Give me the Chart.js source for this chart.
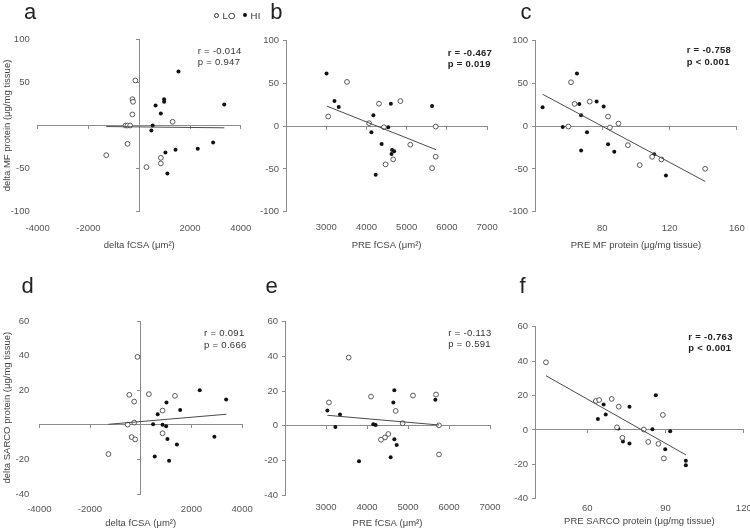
<!DOCTYPE html>
<html>
<head>
<meta charset="utf-8">
<script src="https://cdn.jsdelivr.net/npm/chart.js@4.4.1/dist/chart.umd.min.js"></script>
<style>
    html, body { margin: 0; padding: 0; background: #fff; overflow: hidden; }
    #wrap { position: relative; width: 750px; height: 531px; overflow: hidden; font-family: "Liberation Sans", Arial, sans-serif; }
    #wrap canvas { position: absolute; }
    .lbl { position: absolute; line-height: 1; white-space: nowrap; color: #333; }
    .letter { font-size: 22px; color: #222; }
    .stat { font-size: 9.5px; letter-spacing: 0.3px; }
    .bold { font-weight: bold; color: #222; }
    .dot { position: absolute; width: 4px; height: 4px; border-radius: 50%; }
</style>
</head>
<body>
<div id="wrap"></div>
<script>
// axis ranges: min, max, step
var deltaFcsaAxis = [-4000, 4000, 2000];
var preFcsaAxis = [2000, 7000, 1000];
var preMfAxis = [40, 160, 40];
var preSarcoAxis = [40, 120, 30];
var preSarcoTicks = [60, 90, 120];
var mfAxis = [-100, 100, 50];
var sarcoAxis = [-40, 60, 20];

// a : delta MF protein vs delta fCSA
var aLoX = [-154, -270, -245, -270, -540, -463, -360, 1313, -463, -1300, 849, 849, 283];
var aLoY = [52.2, 30.5, 27.5, 12.8, 0, 0, 0, 4.3, -21.3, -34.4, -37.5, -44, -48.3];
var aHiX = [1544, 978, 978, 643, 849, 3346, 528, 476, 2909, 2304, 1428, 1030, 1107];
var aHiY = [62.6, 30.5, 27.5, 23.2, 13.9, 24.4, 0, -5.8, -19.7, -27.1, -28.2, -31.3, -55.7];
var aFitX = [-1300, 3350];
var aFitY = [-1.2, -2.7];

// b : delta MF protein vs PRE fCSA
var bLoX = [3516, 3049, 4311, 4844, 4066, 4434, 5090, 5721, 5721, 5631, 4664, 4475];
var bLoY = [51.8, 11.4, 26.3, 29.4, 3.5, -1.2, -21.6, -0.4, -35.7, -49, -38.8, -44.7];
var bHiX = [3008, 3205, 3311, 4172, 4607, 5631, 4541, 4123, 4377, 4639, 4689, 4623, 4230];
var bHiY = [61.6, 29.4, 22.4, 12.9, 26.3, 23.5, -1.2, -7.1, -20.8, -27.8, -29.4, -32.5, -56.9];
var bFitX = [3016, 5730];
var bFitY = [23.5, -27.5];

// c : delta MF protein vs PRE MF protein
var cLoX = [61.4, 63.5, 72.5, 59.8, 83.4, 89.6, 84.5, 95.2, 109.6, 115.1, 102.2, 141.1];
var cLoY = [51.4, 26.1, 28.8, -0.4, 11.3, 3.1, -1.6, -22.2, -35.8, -38.9, -45.5, -49.8];
var cHiX = [64.9, 44.5, 66.3, 76.6, 80.8, 67.4, 56.5, 70.9, 67.4, 83.4, 87.1, 110.8, 117.8];
var cHiY = [61.5, 22.2, 26.1, 28.8, 23, 12.8, -0.8, -7, -28.4, -21, -30, -32.7, -57.6];
var cFitX = [44.5, 141.1];
var cFitY = [37.4, -64.6];

// d : delta SARCO protein vs delta fCSA
var dLoX = [-129, -450, -257, 322, 1350, 862, -257, -514, 862, -360, -219, -1273];
var dLoY = [39.3, 17.4, 13.5, 17.8, 16.8, 8.3, 1.4, 0.2, -4.8, -7, -8.3, -16.8];
var dHiX = [2328, 3369, 1016, 1556, 669, 489, 862, 1003, 1054, 2906, 1427, 553, 1119];
var dHiY = [20.1, 14.7, 13, 8.7, 6.2, 0.4, 0.2, -0.8, -8.1, -6.8, -11.2, -18.2, -20.7];
var dFitX = [-1273, 3382];
var dFitY = [0.4, 6.2];

// e : delta SARCO protein vs PRE fCSA
var eLoX = [3553, 3073, 4098, 5122, 5683, 4699, 4870, 5756, 4520, 4439, 4341, 5756];
var eLoY = [39.3, 13.4, 16.8, 17.4, 18, 8.5, 1.4, 0.2, -4.8, -6.8, -8.1, -16.6];
var eHiX = [4667, 4642, 5667, 3033, 3341, 3228, 4154, 4211, 4667, 4724, 4577, 3805];
var eHiY = [20.5, 13.4, 14.9, 8.7, 6.4, -0.8, 0.8, 0.4, -7.9, -11.2, -18.2, -20.5];
var eFitX = [3033, 5756];
var eFitY = [6, 0.4];

// f : delta SARCO protein vs PRE SARCO protein
var fLoX = [44.2, 63.3, 64.6, 69.4, 72.1, 89, 71.4, 81.7, 73.5, 83.4, 87.3, 89.4];
var fLoY = [39.3, 16.8, 17.4, 18, 13.5, 8.7, 1.5, 0.2, -4.6, -7, -8.1, -16.6];
var fHiX = [86.3, 66.3, 76.2, 67.1, 64.1, 71.9, 85, 91.8, 73.7, 76.2, 89.9, 97.8, 97.8];
var fHiY = [20.1, 14.7, 13.4, 8.9, 6.4, 0.8, 0.4, -0.8, -6.8, -7.9, -11.2, -18, -20.5];
var fFitX = [44.2, 97.8];
var fFitY = [31.5, -14.5];

var fontFamily = '"Liberation Sans", Arial, sans-serif';
var axisColor = '#8c8c8c';
var textColor = '#555';
var tickFont = { family: fontFamily, size: 9.5 };
var wrap = document.getElementById('wrap');

function pts(xs, ys) {
    return xs.map(function (x, i) { return { x: x, y: ys[i] }; });
}

function makePanel(p) {
    var cv = document.createElement('canvas');
    cv.width = p.box[2];
    cv.height = p.box[3];
    cv.style.left = p.box[0] + 'px';
    cv.style.top = p.box[1] + 'px';
    wrap.appendChild(cv);

    var A = p.area;
    var half = 9.5 * 1.2 / 2;
    var padLeft = p.padLeft || 0;
    var yW = A[0] - p.box[0] - padLeft;
    var xlH = p.titleY + half - A[3];
    var pad = {
        left: padLeft,
        top: A[1] - p.box[1],
        right: p.box[0] + p.box[2] - A[2],
        bottom: p.box[1] + p.box[3] - A[3] - xlH
    };
    var xHide = p.cross ? 0 : p.x[0];
    var setTicks = function (s) {
        if (p.ticks) s.ticks = p.ticks.map(function (v) { return { value: v }; });
    };
    var markGrid = { display: true, drawOnChartArea: false, drawTicks: true, tickLength: 3, color: axisColor };
    var border = { display: true, color: axisColor, width: 1 };

    var scales = {};
    scales.x = {
        type: 'linear', min: p.x[0], max: p.x[1], position: { y: 0 },
        border: border, grid: markGrid,
        ticks: { display: false, stepSize: p.x[2] },
        afterBuildTicks: setTicks
    };
    scales.xl = {
        type: 'linear', axis: 'x', min: p.x[0], max: p.x[1], position: 'bottom',
        border: { display: false }, grid: { display: false, drawTicks: false },
        ticks: {
            stepSize: p.x[2], padding: p.labelY - A[3] - half, font: tickFont, color: textColor,
            maxRotation: 0, autoSkip: false,
            callback: function (v) { return v === xHide ? '' : String(v); }
        },
        title: { display: true, text: p.xTitle, font: tickFont, color: '#444', padding: 0 },
        afterBuildTicks: setTicks,
        afterFit: function (s) { s.height = xlH; }
    };
    if (p.cross) {
        scales.y = {
            type: 'linear', min: p.y[0], max: p.y[1], position: { x: 0 },
            border: border, grid: markGrid,
            ticks: { display: false, stepSize: p.y[2] }
        };
        scales.yl = {
            type: 'linear', axis: 'y', min: p.y[0], max: p.y[1], position: 'left',
            border: { display: false }, grid: { display: false, drawTicks: false },
            ticks: {
                stepSize: p.y[2], padding: p.yPad, font: tickFont, color: textColor,
                callback: function (v) { return v === 0 ? '' : String(v); }
            },
            title: { display: true, text: p.yTitle, font: tickFont, color: '#444', padding: 0 },
            afterFit: function (s) { s.width = yW; }
        };
    } else {
        scales.y = {
            type: 'linear', min: p.y[0], max: p.y[1], position: 'left',
            border: border, grid: markGrid,
            ticks: {
                stepSize: p.y[2], padding: 4, font: tickFont, color: textColor,
                callback: function (v) { return String(v); }
            },
            afterFit: function (s) { s.width = yW; }
        };
    }

    return new Chart(cv.getContext('2d'), {
        type: 'scatter',
        data: {
            datasets: [{
                label: 'fit',
                data: pts(p.fit[0], p.fit[1]),
                showLine: true,
                borderColor: '#4a4a4a',
                borderWidth: 1,
                pointRadius: 0,
                fill: false
            }, {
                label: 'LO',
                data: pts(p.lo[0], p.lo[1]),
                pointRadius: 2.4,
                pointBackgroundColor: '#fff',
                pointBorderColor: '#333',
                pointBorderWidth: 0.8
            }, {
                label: 'HI',
                data: pts(p.hi[0], p.hi[1]),
                pointRadius: 2,
                pointBackgroundColor: '#111',
                pointBorderColor: '#111',
                pointBorderWidth: 0
            }]
        },
        options: {
            responsive: false,
            animation: false,
            events: [],
            layout: { padding: pad },
            plugins: { legend: { display: false }, tooltip: { enabled: false } },
            scales: scales
        }
    });
}

var panels = [
    { box: [0, 0, 262, 260], area: [37.7, 39.3, 245, 211.7], padLeft: 1.8, cross: true, yPad: 8,
      x: deltaFcsaAxis, y: mfAxis, labelY: 228, titleY: 245,
      xTitle: 'delta fCSA (μm²)', yTitle: 'delta MF protein (μg/mg tissue)',
      lo: [aLoX, aLoY], hi: [aHiX, aHiY], fit: [aFitX, aFitY] },
    { box: [250, 0, 258, 260], area: [286, 40.7, 490, 211.7],
      x: preFcsaAxis, y: mfAxis, labelY: 227.7, titleY: 245,
      xTitle: 'PRE fCSA (μm²)',
      lo: [bLoX, bLoY], hi: [bHiX, bHiY], fit: [bFitX, bFitY] },
    { box: [500, 0, 256, 260], area: [535, 40.7, 740.7, 211.7],
      x: preMfAxis, y: mfAxis, labelY: 228.5, titleY: 245,
      xTitle: 'PRE MF protein (μg/mg tissue)',
      lo: [cLoX, cLoY], hi: [cHiX, cHiY], fit: [cFitX, cFitY] },
    { box: [0, 262, 262, 269], area: [39.3, 321, 246.7, 494.3], padLeft: 1.8, cross: true, yPad: 10,
      x: deltaFcsaAxis, y: sarcoAxis, labelY: 509.3, titleY: 523.3,
      xTitle: 'delta fCSA (μm²)', yTitle: 'delta SARCO protein (μg/mg tissue)',
      lo: [dLoX, dLoY], hi: [dHiX, dHiY], fit: [dFitX, dFitY] },
    { box: [250, 262, 258, 269], area: [285, 321.7, 490, 495],
      x: preFcsaAxis, y: sarcoAxis, labelY: 507.7, titleY: 523,
      xTitle: 'PRE fCSA (μm²)',
      lo: [eLoX, eLoY], hi: [eHiX, eHiY], fit: [eFitX, eFitY] },
    { box: [500, 262, 256, 269], area: [535, 326.7, 745, 498.7],
      x: preSarcoAxis, y: sarcoAxis, ticks: preSarcoTicks, labelY: 508.7, titleY: 521.7,
      xTitle: 'PRE SARCO protein (μg/mg tissue)',
      lo: [fLoX, fLoY], hi: [fHiX, fHiY], fit: [fFitX, fFitY] }
];

panels.forEach(makePanel);

// text overlays
function put(text, x, y, cls) {
    var d = document.createElement('div');
    d.className = 'lbl ' + (cls || '');
    d.textContent = text;
    d.style.left = x + 'px';
    d.style.top = y + 'px';
    wrap.appendChild(d);
    return d;
}

put('a', 24, 1.4, 'letter');
put('b', 270.3, 1.4, 'letter');
put('c', 520.5, 1.4, 'letter');
put('d', 21.5, 274.7, 'letter');
put('e', 265.5, 274.7, 'letter');
put('f', 519.5, 274.7, 'letter');

put('r = -0.014', 197.7, 46, 'stat');
put('p = 0.947', 197.7, 57, 'stat');
put('r = -0.467', 447.7, 47.5, 'stat bold');
put('p = 0.019', 447.7, 58.7, 'stat bold');
put('r = -0.758', 686.7, 45.4, 'stat bold');
put('p < 0.001', 686.7, 57, 'stat bold');
put('r = 0.091', 204, 328, 'stat');
put('p = 0.666', 204, 339.6, 'stat');
put('r = -0.113', 448.3, 328, 'stat');
put('p = 0.591', 448.3, 339.4, 'stat');
put('r = -0.763', 688.3, 332, 'stat bold');
put('p < 0.001', 688.3, 343.4, 'stat bold');

// legend
var o = document.createElement('div');
o.className = 'dot';
o.style.cssText += 'left:213.8px;top:12.6px;border:0.8px solid #333;background:#fff;width:3.4px;height:3.4px;';
wrap.appendChild(o);
put('LO', 222.5, 10.5, 'stat');
var h = document.createElement('div');
h.className = 'dot';
h.style.cssText += 'left:242.5px;top:13px;background:#111;';
wrap.appendChild(h);
put('HI', 250.5, 10.5, 'stat');
</script>
</body>
</html>
